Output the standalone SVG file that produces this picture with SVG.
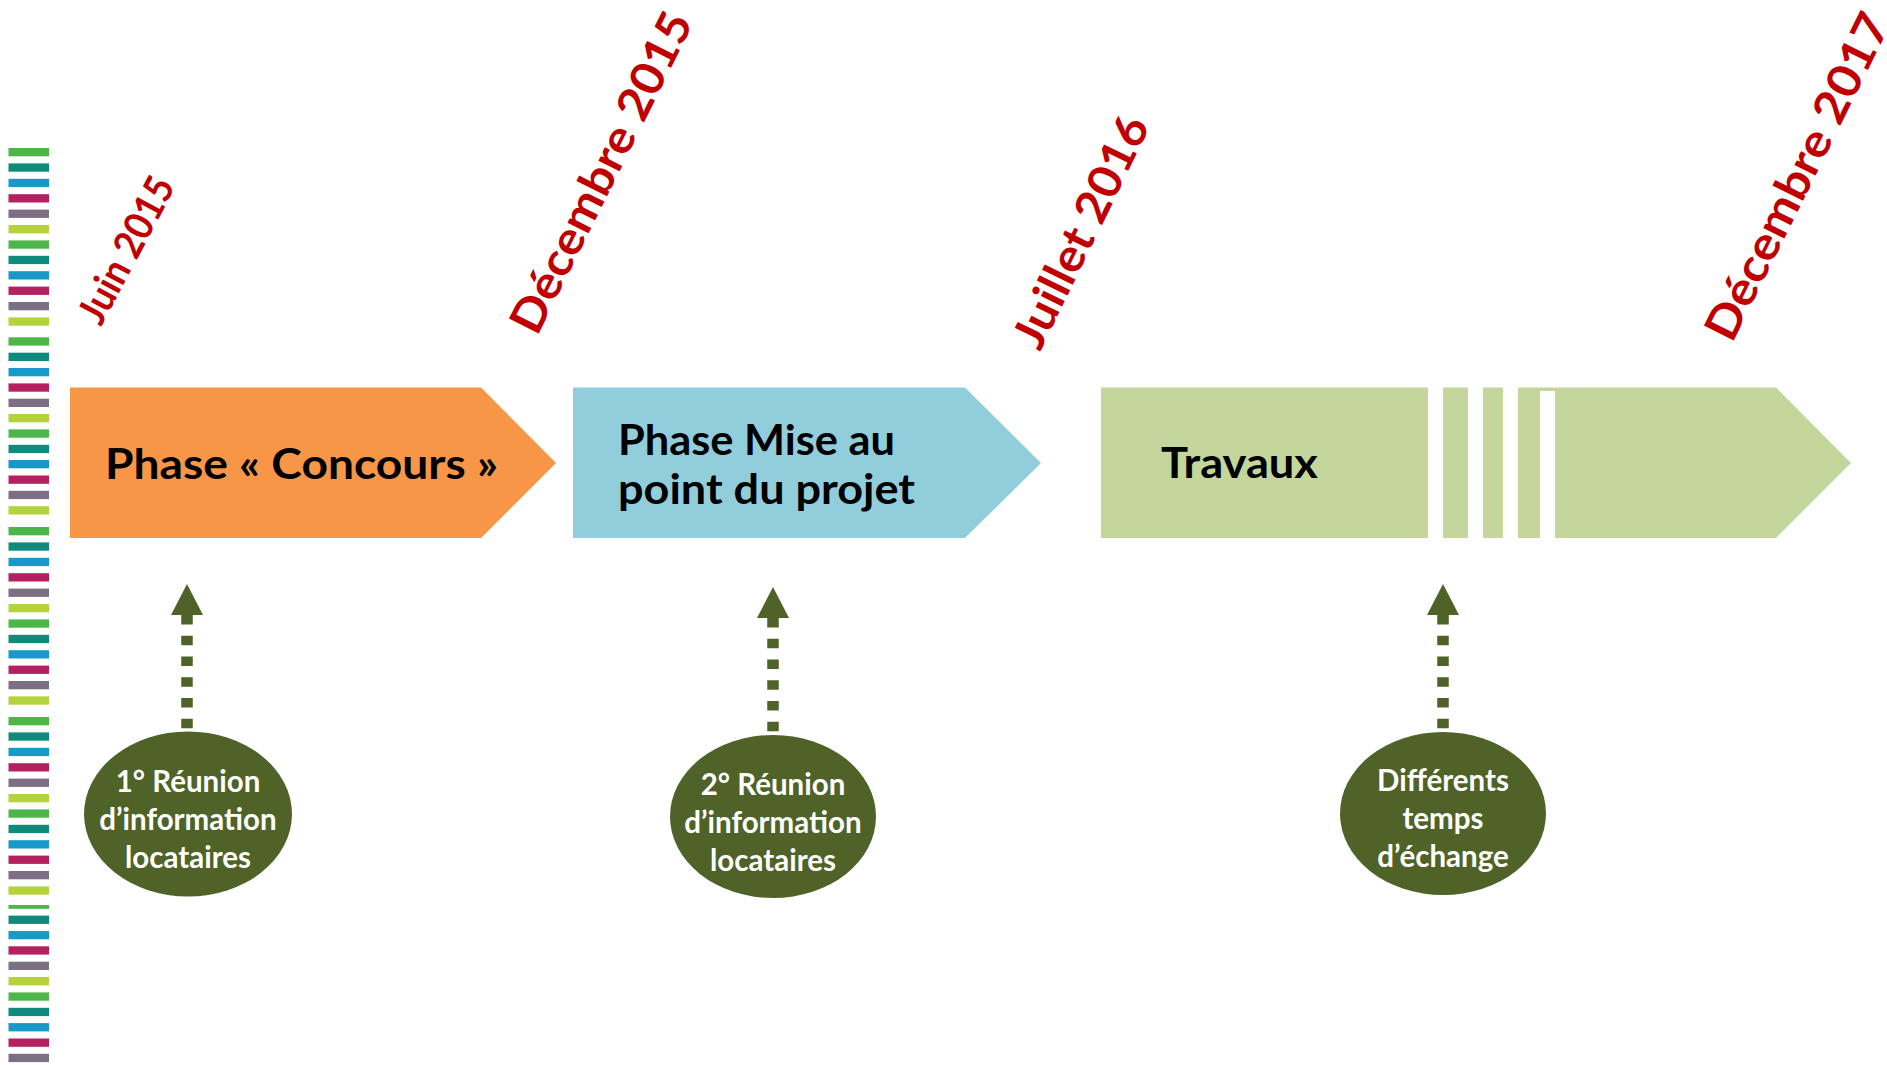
<svg xmlns="http://www.w3.org/2000/svg" width="1887" height="1065" viewBox="0 0 1887 1065">
<defs>
<style>
.date{font-family:Lato,"Open Sans","DejaVu Sans",sans-serif;font-weight:700;fill:#C00000;}
.lbl{font-family:Lato,"Open Sans","DejaVu Sans",sans-serif;font-weight:700;fill:#000;font-size:42px;}
.ell{fill:#4F6228;}
.et{font-family:Lato,"Open Sans","DejaVu Sans",sans-serif;font-weight:700;fill:#fff;font-size:29.5px;text-anchor:middle;}
.conn{stroke:#4F6228;stroke-width:11.5;fill:none;stroke-dasharray:9.5 11.25;}
.g1{fill:#4CB648}.g2{fill:#0F8A7B}.g3{fill:#1899C9}.g4{fill:#B52060}.g5{fill:#7B6E85}.g6{fill:#B4D23B}
</style>
<marker id="ah" markerUnits="userSpaceOnUse" viewBox="0 -17 32 34" refX="0" refY="0" markerWidth="32" markerHeight="34" orient="auto-start-reverse">
<path d="M0,-16 L31,0 L0,16 Z" fill="#4F6228"/>
</marker>
</defs>
<rect width="1887" height="1065" fill="#fff"/>

<g id="stripes">
<rect class="g1" x="8.5" y="148" width="40.5" height="8.3"/>
<rect class="g2" x="8.5" y="163.4" width="40.5" height="8.3"/>
<rect class="g3" x="8.5" y="178.8" width="40.5" height="8.3"/>
<rect class="g4" x="8.5" y="194.2" width="40.5" height="8.3"/>
<rect class="g5" x="8.5" y="209.6" width="40.5" height="8.3"/>
<rect class="g6" x="8.5" y="225" width="40.5" height="8.3"/>
<rect class="g1" x="8.5" y="240.4" width="40.5" height="8.3"/>
<rect class="g2" x="8.5" y="255.8" width="40.5" height="8.3"/>
<rect class="g3" x="8.5" y="271.2" width="40.5" height="8.3"/>
<rect class="g4" x="8.5" y="286.6" width="40.5" height="8.3"/>
<rect class="g5" x="8.5" y="302" width="40.5" height="8.3"/>
<rect class="g6" x="8.5" y="317.4" width="40.5" height="8.3"/>

<rect class="g1" x="8.5" y="337.3" width="40.5" height="8.3"/>
<rect class="g2" x="8.5" y="352.7" width="40.5" height="8.3"/>
<rect class="g3" x="8.5" y="368" width="40.5" height="8.3"/>
<rect class="g4" x="8.5" y="383.4" width="40.5" height="8.3"/>
<rect class="g5" x="8.5" y="398.7" width="40.5" height="8.3"/>
<rect class="g6" x="8.5" y="414" width="40.5" height="8.3"/>
<rect class="g1" x="8.5" y="429.4" width="40.5" height="8.3"/>
<rect class="g2" x="8.5" y="444.8" width="40.5" height="8.3"/>
<rect class="g3" x="8.5" y="460" width="40.5" height="8.3"/>
<rect class="g4" x="8.5" y="475.5" width="40.5" height="8.3"/>
<rect class="g5" x="8.5" y="490.8" width="40.5" height="8.3"/>
<rect class="g6" x="8.5" y="506.2" width="40.5" height="8.3"/>

<rect class="g1" x="8.5" y="527" width="40.5" height="8.3"/>
<rect class="g2" x="8.5" y="542.4" width="40.5" height="8.3"/>
<rect class="g3" x="8.5" y="557.8" width="40.5" height="8.3"/>
<rect class="g4" x="8.5" y="573.2" width="40.5" height="8.3"/>
<rect class="g5" x="8.5" y="588.6" width="40.5" height="8.3"/>
<rect class="g6" x="8.5" y="604" width="40.5" height="8.3"/>
<rect class="g1" x="8.5" y="619.4" width="40.5" height="8.3"/>
<rect class="g2" x="8.5" y="634.8" width="40.5" height="8.3"/>
<rect class="g3" x="8.5" y="650.2" width="40.5" height="8.3"/>
<rect class="g4" x="8.5" y="665.6" width="40.5" height="8.3"/>
<rect class="g5" x="8.5" y="681" width="40.5" height="8.3"/>
<rect class="g6" x="8.5" y="696.4" width="40.5" height="8.3"/>

<rect class="g1" x="8.5" y="717" width="40.5" height="8.3"/>
<rect class="g2" x="8.5" y="732.4" width="40.5" height="8.3"/>
<rect class="g3" x="8.5" y="747.8" width="40.5" height="8.3"/>
<rect class="g4" x="8.5" y="763.2" width="40.5" height="8.3"/>
<rect class="g5" x="8.5" y="778.6" width="40.5" height="8.3"/>
<rect class="g6" x="8.5" y="794" width="40.5" height="8.3"/>
<rect class="g1" x="8.5" y="809.4" width="40.5" height="8.3"/>
<rect class="g2" x="8.5" y="824.8" width="40.5" height="8.3"/>
<rect class="g3" x="8.5" y="840.2" width="40.5" height="8.3"/>
<rect class="g4" x="8.5" y="855.6" width="40.5" height="8.3"/>
<rect class="g5" x="8.5" y="871" width="40.5" height="8.3"/>
<rect class="g6" x="8.5" y="886.4" width="40.5" height="8.3"/>

<rect class="g1" x="8.5" y="905" width="40.5" height="3.8"/>
<rect class="g2" x="8.5" y="915.6" width="40.5" height="8.3"/>
<rect class="g3" x="8.5" y="931" width="40.5" height="8.3"/>
<rect class="g4" x="8.5" y="946.3" width="40.5" height="8.3"/>
<rect class="g5" x="8.5" y="961.7" width="40.5" height="8.3"/>
<rect class="g6" x="8.5" y="977" width="40.5" height="8.3"/>
<rect class="g1" x="8.5" y="992.4" width="40.5" height="8.3"/>
<rect class="g2" x="8.5" y="1007.8" width="40.5" height="8.3"/>
<rect class="g3" x="8.5" y="1023.1" width="40.5" height="8.3"/>
<rect class="g4" x="8.5" y="1038.5" width="40.5" height="8.3"/>
<rect class="g5" x="8.5" y="1053.8" width="40.5" height="8.3"/>
</g>

<g id="dates">
<text class="date" font-size="40" transform="translate(101,327) rotate(-62)" textLength="160" lengthAdjust="spacingAndGlyphs">Juin 2015</text>
<text class="date" font-size="46" transform="translate(537,337) rotate(-63.5)" textLength="352" lengthAdjust="spacingAndGlyphs">Décembre 2015</text>
<text class="date" font-size="46" transform="translate(1040,352) rotate(-64)" textLength="252" lengthAdjust="spacingAndGlyphs">Juillet 2016</text>
<text class="date" font-size="46" transform="translate(1732,344) rotate(-63.6)" textLength="358" lengthAdjust="spacingAndGlyphs">Décembre 2017</text>
</g>

<g id="phase-concours">
<polygon points="70,387.5 481,387.5 556,463 481,538 70,538" fill="#F79646"/>
<text class="lbl" x="105" y="479" textLength="393" lengthAdjust="spacingAndGlyphs">Phase « Concours »</text>
</g>

<g id="phase-mise-au-point">
<polygon points="573,387.5 965,387.5 1041,463 965,538 573,538" fill="#92CDDC"/>
<text class="lbl" x="618" y="455" textLength="277" lengthAdjust="spacingAndGlyphs">Phase Mise au</text>
<text class="lbl" x="618" y="504" textLength="297" lengthAdjust="spacingAndGlyphs">point du projet</text>
</g>

<g id="travaux">
<polygon points="1101,387.5 1776,387.5 1851,463 1776,538 1101,538" fill="#C3D69B"/>
<rect x="1428" y="386" width="15" height="152" fill="#fff"/>
<rect x="1468" y="386" width="15" height="153" fill="#fff"/>
<rect x="1503" y="386" width="15" height="153" fill="#fff"/>
<rect x="1540" y="391" width="15" height="148" fill="#fff"/>
<text class="lbl" x="1161" y="478" textLength="157" lengthAdjust="spacingAndGlyphs">Travaux</text>
</g>

<g id="connectors">
<line class="conn" x1="187" y1="615" x2="187" y2="732" marker-start="url(#ah)"/>
<line class="conn" x1="773" y1="618" x2="773" y2="735" marker-start="url(#ah)"/>
<line class="conn" x1="1443" y1="615" x2="1443" y2="732" marker-start="url(#ah)"/>
</g>

<g id="reunion-1">
<ellipse class="ell" cx="188" cy="814" rx="104" ry="82.5"/>
<text class="et" x="188" y="792">1° Réunion</text>
<text class="et" x="188" y="830">d’information</text>
<text class="et" x="188" y="868">locataires</text>
</g>

<g id="reunion-2">
<ellipse class="ell" cx="773" cy="816.5" rx="103" ry="81.5"/>
<text class="et" x="773" y="795">2° Réunion</text>
<text class="et" x="773" y="833">d’information</text>
<text class="et" x="773" y="871">locataires</text>
</g>

<g id="echanges">
<ellipse class="ell" cx="1443" cy="813.5" rx="103" ry="81.5"/>
<text class="et" x="1443" y="791">Différents</text>
<text class="et" x="1443" y="829">temps</text>
<text class="et" x="1443" y="867">d’échange</text>
</g>
</svg>
